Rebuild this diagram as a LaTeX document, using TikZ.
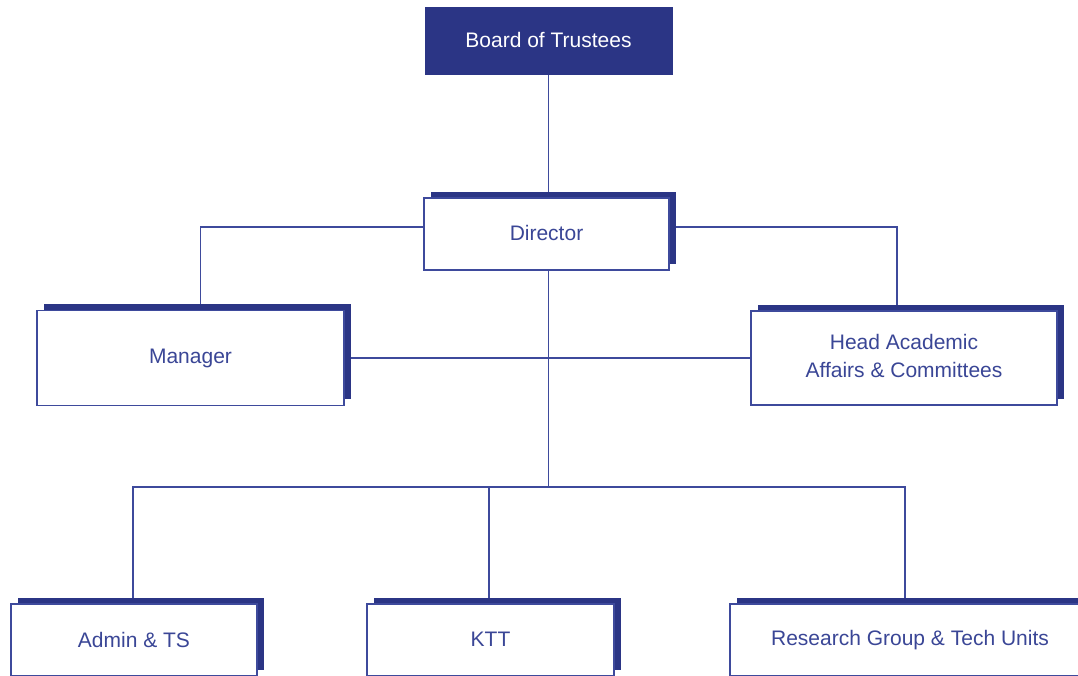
\documentclass[tikz,border=0pt]{standalone}
\usepackage{fontspec}
\setmainfont{Liberation Sans}
\usetikzlibrary{shadows,backgrounds}
\definecolor{navy}{RGB}{43,53,133}
\definecolor{linec}{RGB}{62,74,156}
\definecolor{textc}{RGB}{58,70,150}
\tikzset{
  box/.style={draw=linec, line width=1.7pt, fill=white, text=textc,
    font=\fontsize{21}{28}\selectfont, align=center, inner sep=0pt,
    drop shadow={shadow xshift=6.5pt, shadow yshift=6.5pt, fill=navy, opacity=1}},
  topbox/.style={draw=navy, fill=navy, text=white, inner sep=0pt,
    font=\fontsize{21}{28}\selectfont},
  conn/.style={draw=linec, line width=1.7pt}
}
\begin{document}
\begin{tikzpicture}[x=1pt,y=-1pt]
\useasboundingbox (0,0) rectangle (1078,675);
\clip (0,0) rectangle (1078,675);
\node[topbox, minimum width=247pt, minimum height=67pt] (board) at (548.5,40.5) {\raisebox{2pt}{Board of Trustees}};
\node[box, minimum width=245pt, minimum height=72pt] (dir) at (546.5,234) {\raisebox{2pt}{Director}};
\node[box, minimum width=307pt, minimum height=95pt] (mgr) at (190.5,358) {Manager};
\node[box, minimum width=306pt, minimum height=94pt] (head) at (904,358) {\raisebox{2pt}{\begin{tabular}{@{}c@{}}Head Academic\\Affairs \& Committees\end{tabular}}};
\node[box, minimum width=246pt, minimum height=72pt] (admin) at (134,640) {\raisebox{1pt}{Admin \& TS}};
\node[box, minimum width=247pt, minimum height=72pt] (ktt) at (490.5,640) {\raisebox{1pt}{KTT}};
\node[box, minimum width=360pt, minimum height=72pt] (res) at (910,640) {Research Group \& Tech Units};
\coordinate (bus) at (548.5,487);
\begin{pgfonlayer}{background}
\draw[conn] (board.south) -- (board.south |- dir.north);
\draw[conn] ([yshift=7pt]dir.west) -| ([xshift=10pt]mgr.north);
\draw[conn] ([yshift=7pt]dir.east) -| ([xshift=-7pt]head.north);
\draw[conn] (mgr.east) -- (head.west);
\draw[conn] (board.south |- dir.south) -- (bus);
\draw[conn] (bus) -| ([xshift=-1pt]admin.north);
\draw[conn] (bus) -| ([xshift=-1.5pt]ktt.north);
\draw[conn] (bus) -| ([xshift=-5pt]res.north);
\end{pgfonlayer}
\end{tikzpicture}
\end{document}
